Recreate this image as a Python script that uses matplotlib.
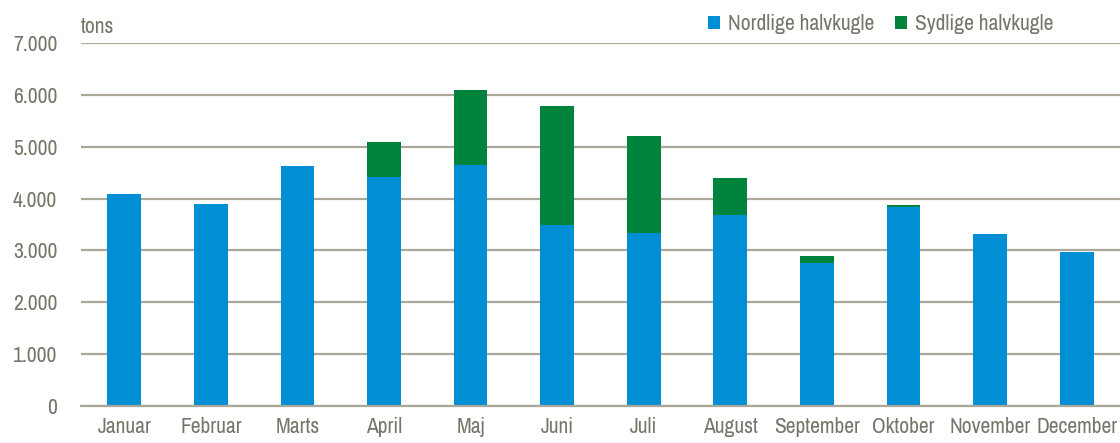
import numpy as np
import matplotlib.pyplot as plt
from matplotlib.ticker import FuncFormatter

# ================================
# Data (tons pr. maaned)
# ================================

months = ["Januar", "Februar", "Marts", "April", "Maj", "Juni",
          "Juli", "August", "September", "Oktober", "November", "December"]

nordlige = [4090, 3900, 4630, 4410, 4640, 3490, 3330, 3680, 2750, 3830, 3320, 2975]
sydlige = [0, 0, 0, 680, 1450, 2290, 1880, 720, 150, 40, 0, 0]

yticks = [0, 1000, 2000, 3000, 4000, 5000, 6000, 7000]

blue = "#008FD5"
green = "#00843D"
grid_col = "#ABA899"
text_col = "#75756A"

plt.rcParams["font.family"] = ["Archivo Narrow", "Roboto Condensed", "DejaVu Sans"]

fig = plt.figure(figsize=(11.2, 4.43), dpi=100)
ax = fig.add_axes([0.0723, 0.0835, 0.9277, 0.8195])

x = np.arange(len(months))
ax.bar(x, nordlige, width=0.39, color=blue, label="Nordlige halvkugle", zorder=3)
ax.bar(x, sydlige, width=0.39, bottom=nordlige, color=green,
       label="Sydlige halvkugle", zorder=3)

ax.set_xlim(-0.5, len(months) - 0.5)
ax.set_ylim(0, 7000)
ax.set_yticks(yticks)
ax.yaxis.set_major_formatter(FuncFormatter(lambda v, p: f"{int(v):,}".replace(",", ".")))
ax.set_xticks(x)
ax.set_xticklabels(months)

ax.grid(axis="y", color=grid_col, linewidth=1.6, zorder=0)
ax.set_axisbelow(True)
for s in ["top", "right", "left"]:
    ax.spines[s].set_visible(False)
ax.spines["bottom"].set_color(grid_col)
ax.spines["bottom"].set_linewidth(1.6)
ax.spines["bottom"].set_zorder(4)

fs = 15.5
ax.tick_params(axis="both", length=0, labelsize=fs, labelcolor=text_col)
ax.tick_params(axis="x", pad=8)
ax.tick_params(axis="y", pad=17)

ax.text(0.0, 1.028, "tons", transform=ax.transAxes, fontsize=fs,
        color=text_col, ha="left", va="baseline")

leg = ax.legend(loc="lower right", bbox_to_anchor=(0.946, 0.995), ncol=2,
                frameon=False, fontsize=fs, handlelength=0.55, handleheight=0.55,
                handletextpad=0.35, columnspacing=1.0, borderaxespad=0.1)
for t in leg.get_texts():
    t.set_color(text_col)

plt.savefig("out.png", dpi=100)
